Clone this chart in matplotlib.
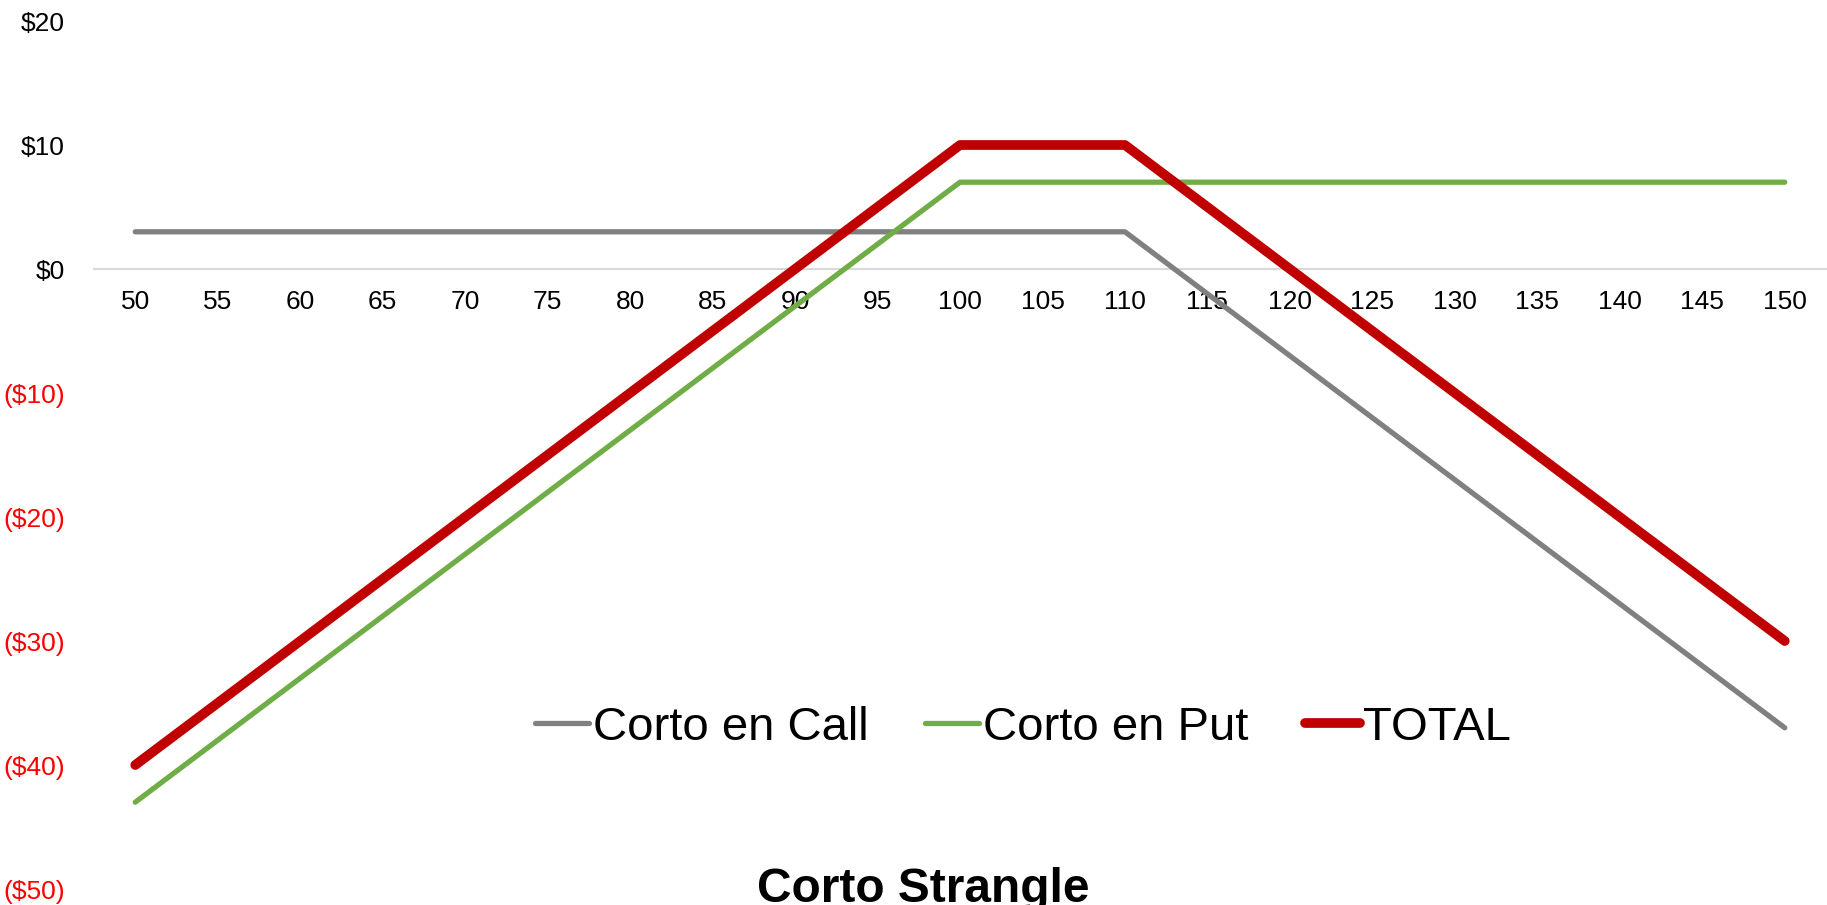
import matplotlib
matplotlib.use("Agg")
import matplotlib.pyplot as plt
from matplotlib.ticker import FixedLocator

strikes = [50, 55, 60, 65, 70, 75, 80, 85, 90, 95, 100, 105, 110, 115, 120, 125, 130, 135, 140, 145, 150]
corto_call = [3, 3, 3, 3, 3, 3, 3, 3, 3, 3, 3, 3, 3, -2, -7, -12, -17, -22, -27, -32, -37]
corto_put = [-43, -38, -33, -28, -23, -18, -13, -8, -3, 2, 7, 7, 7, 7, 7, 7, 7, 7, 7, 7, 7]
total = [-40, -35, -30, -25, -20, -15, -10, -5, 0, 5, 10, 10, 10, 5, 0, -5, -10, -15, -20, -25, -30]
y_ticks = [20, 10, 0, -10, -20, -30, -40, -50]
title = "Corto Strangle"

FONT = "Liberation Sans"
plt.rcParams['font.family'] = [FONT, 'DejaVu Sans']

fig = plt.figure(figsize=(18.27, 9.05), dpi=100)
ax = fig.add_axes([94/1827, 16/905, (1826-94)/1827, (889-21)/905])

xs = list(range(len(strikes)))
l1, = ax.plot(xs, corto_call, color="#808080", lw=3.8, solid_capstyle="round", label="Corto en Call")
l2, = ax.plot(xs, corto_put, color="#70AD47", lw=3.8, solid_capstyle="round", label="Corto en Put")
l3, = ax.plot(xs, total, color="#C00000", lw=7, solid_capstyle="round", label="TOTAL")

ax.set_xlim(-0.5, len(strikes) - 0.5)
ax.set_ylim(-50, 20)
for s in ["top", "right", "left"]:
    ax.spines[s].set_visible(False)
ax.spines["bottom"].set_position(("data", 0))
ax.spines["bottom"].set_color("#D9D9D9")
ax.spines["bottom"].set_linewidth(1.5)
ax.spines["bottom"].set_zorder(0)

ax.set_xticks(xs)
ax.set_xticklabels([str(s) for s in strikes], fontsize=19)
ax.tick_params(axis="x", length=0, pad=15)

ax.yaxis.set_major_locator(FixedLocator(y_ticks))
def fmt(v):
    return f"${v}" if v >= 0 else f"(${-v})"
ax.set_yticklabels([fmt(v) for v in y_ticks], fontsize=19)
ax.tick_params(axis="y", length=0, pad=21)
for lab, v in zip(ax.get_yticklabels(), y_ticks):
    lab.set_color("red" if v < 0 else "black")

leg = fig.legend(handles=[l1, l2, l3], loc="center", bbox_to_anchor=(1023/1827, 1 - 728/905),
                 ncol=3, frameon=False, fontsize=34, handlelength=1.15, handletextpad=0.08,
                 columnspacing=1.2, borderpad=0)
for h in leg.get_lines():
    h.set_solid_capstyle("round")

fig.text(923/1827, 1 - 902/905, title, ha="center", va="baseline", fontsize=34.5, fontweight="bold")

fig.savefig("out.png", dpi=100)
